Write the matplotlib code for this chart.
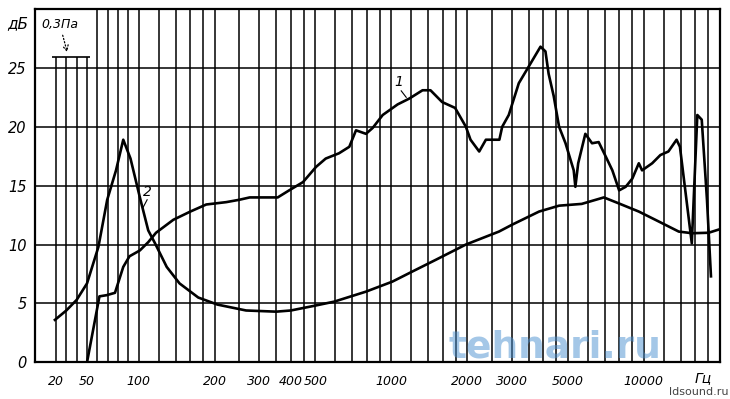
import numpy as np
import matplotlib.pyplot as plt
from matplotlib.ticker import NullLocator

plt.rcParams['font.family'] = ['Liberation Sans Narrow', 'DejaVu Sans Condensed', 'DejaVu Sans']
plt.rcParams['font.style'] = 'italic'

# кривая 1 - частотная характеристика
curve1_hz = [50, 62, 69, 77, 85, 91, 101, 109, 117, 137, 160, 185, 222, 250, 275,
             355, 394, 447, 504, 550, 621, 682, 725, 794, 844, 925, 1060, 1180,
             1330, 1430, 1590, 1790, 1975, 2060, 2230, 2370, 2680, 2750, 2920,
             3200, 3500, 3900, 4080, 4200, 4400, 4620, 4900, 5280, 5360, 5500,
             5870, 6240, 6630, 7060, 7510, 7990, 8480, 9010, 9560, 9850, 10800,
             11640, 12520, 13490, 13910, 15500, 16300, 16970, 17800, 18460]
curve1_db = [0, 5.6, 5.7, 5.9, 8.1, 9.0, 9.5, 10.2, 11.0, 12.1, 12.8, 13.4, 13.6, 13.8, 14.0,
             14.0, 14.6, 15.3, 16.6, 17.3, 17.75, 18.3, 19.7, 19.4, 19.9, 21.0, 21.9, 22.4,
             23.1, 23.1, 22.1, 21.6, 20.0, 18.9, 17.9, 18.9, 18.9, 20.0, 21.0,
             23.7, 25.1, 26.8, 26.4, 24.5, 22.6, 20.0, 18.6, 16.3, 14.9, 16.9,
             19.4, 18.6, 18.7, 17.5, 16.3, 14.6, 14.9, 15.6, 16.9, 16.3, 16.9,
             17.6, 17.9, 18.9, 18.3, 10.1, 21.0, 20.6, 13.8, 7.3]

# кривая 2
curve2_hz = [19, 30, 40, 50, 61, 69.5, 78, 85, 92, 101, 109, 116, 129, 145, 172, 205,
             266, 350, 400, 496, 594, 794, 1010, 1210, 1500, 1975, 2670, 3020, 3850,
             4620, 5680, 6950, 7950, 9560, 11480, 13760, 15550, 18070, 20000]
curve2_db = [3.6, 4.4, 5.3, 6.7, 9.8, 13.8, 16.3, 18.9, 17.3, 14.0, 11.2, 10.1, 8.1, 6.7, 5.5, 4.9,
             4.4, 4.3, 4.4, 4.8, 5.15, 6.0, 6.85, 7.7, 8.7, 10.0, 11.1, 11.7, 12.8,
             13.3, 13.45, 14.0, 13.5, 12.8, 11.95, 11.1, 10.96, 11.0, 11.3]

grid_hz = ([20, 30, 40, 50, 60, 70, 80, 90, 100, 120, 140, 160, 180, 200, 250, 300, 350,
            400, 450, 500, 600, 700, 800, 900, 1000, 1200, 1400, 1600, 1800, 2000, 2500,
            3000, 3500, 4000, 4500, 5000, 6000, 7000, 8000, 9000, 10000, 12000, 14000,
            16000, 18000])
tick_hz = [20, 50, 100, 200, 300, 400, 500, 1000, 2000, 3000, 5000, 10000]
tick_labels = ['20', '50', '100', '200', '300', '400', '500', '1000', '2000', '3000', '5000', '10000']
db_ticks = [0, 5, 10, 15, 20, 25]
ref_level = 25.9  # уровень 0,3 Па


# шкала: линейная до 100 Гц, логарифмическая выше
def fwd(f):
    f = np.asarray(f, float)
    lg = 103.75 + 253 * np.log10(np.maximum(f, 100) / 100)
    return np.where(f <= 100, f * 1.0375, lg)


def inv(u):
    u = np.asarray(u, float)
    lg = 100 * 10 ** ((np.maximum(u, 103.75) - 103.75) / 253)
    return np.where(u <= 103.75, u / 1.0375, lg)


fig = plt.figure(figsize=(7.3, 3.99), dpi=100)
ax = fig.add_axes([35.25 / 730, 36.7 / 399, 684.5 / 730, 353.3 / 399])
ax.set_xscale('function', functions=(fwd, inv))
ax.set_xlim(0, 20000)
ax.set_ylim(0, 30)

for f in grid_hz:
    top = ref_level if f <= 50 else 30
    ax.vlines(f, 0, top, color='black', lw=1.1, zorder=1)
for d in db_ticks[1:]:
    ax.hlines(d, 0, 20000, color='black', lw=1.1, zorder=1)

ax.plot(curve1_hz, curve1_db, color='black', lw=1.9, zorder=3)
ax.plot(curve2_hz, curve2_db, color='black', lw=1.9, zorder=3)

# отметка 0,3 Па
ax.hlines(ref_level, 15.9, 52.8, color='black', lw=1.2)
ax.text(23.9, 28.7, '0,3Па', fontsize=9, ha='center', va='center')
ax.annotate('', xy=(31.6, 26.1), xytext=(25.8, 28.0),
            arrowprops=dict(arrowstyle='->', linestyle=':', lw=0.9, color='black'))

# номера кривых
ax.text(1075, 23.8, '1', fontsize=10, ha='center', va='center')
ax.plot([1095, 1146], [23.05, 22.5], color='black', lw=0.8)
ax.text(108.5, 14.5, '2', fontsize=10, ha='center', va='center')
ax.plot([107.9, 103.7], [13.8, 13.1], color='black', lw=0.8)

ax.set_xticks(tick_hz, tick_labels)
ax.xaxis.set_minor_locator(NullLocator())
ax.set_yticks(db_ticks, [str(d) for d in db_ticks])
ax.tick_params(axis='both', length=0)
ax.tick_params(axis='x', pad=9, labelsize=9)
ax.tick_params(axis='y', pad=6, labelsize=10.5)
for sp in ax.spines.values():
    sp.set_linewidth(1.6)

fig.text(18 / 730, 1 - 24 / 399, 'дБ', fontsize=11, ha='center', va='center')
fig.text(703 / 730, 1 - 378 / 399, 'Гц', fontsize=10, ha='center', va='center')

# водяные знаки
fig.text(555 / 730, 1 - 347 / 399, 'tehnari.ru', fontsize=27, fontweight='bold',
         fontstyle='normal', family='DejaVu Sans', color='#4a90d0', alpha=0.5,
         ha='center', va='center')
fig.text(729 / 730, 1 - 392 / 399, 'ldsound.ru', fontsize=8, fontstyle='normal',
         family='DejaVu Sans', color='#444444', ha='right', va='center')

fig.savefig('out.png', dpi=100)
